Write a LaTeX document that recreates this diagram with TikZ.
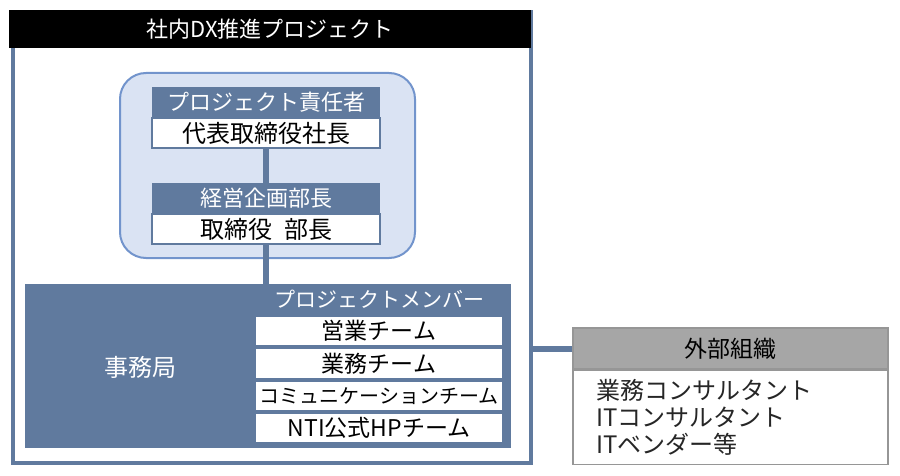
\documentclass[tikz,border=0pt]{standalone}
\usepackage{fontspec}
\setmainfont{Noto Sans CJK JP}
\usepackage{tikz}
\usetikzlibrary{positioning,shapes,calc}
\definecolor{orgblue}{RGB}{96,122,158}
\definecolor{paleblue}{RGB}{218,227,243}
\definecolor{paleedge}{RGB}{114,148,204}
\definecolor{extgray}{RGB}{166,166,166}
\definecolor{extedge}{RGB}{150,150,150}

\begin{document}
\begin{tikzpicture}[x=1pt,y=-1pt,
  hdr/.style={fill=orgblue,text=white,minimum width=228pt,minimum height=30pt,inner sep=0pt,font=\fontsize{22}{26}\selectfont},
  cell/.style={fill=white,draw=orgblue,line width=2pt,text=black,minimum width=228pt,minimum height=30pt,inner sep=0pt,font=\fontsize{24}{28}\selectfont},
  team/.style={fill=white,text=black,minimum width=246pt,minimum height=28.5pt,inner sep=0pt,font=\fontsize{23}{26}\selectfont},
  link/.style={draw=orgblue,line width=6pt}]
\useasboundingbox (0,0) rectangle (900,476);

\node[draw=orgblue,line width=4pt,minimum width=518pt,minimum height=451pt,anchor=north west] (frame) at (11,10) {};
\node[fill=black,text=white,minimum width=522pt,minimum height=38pt,inner sep=0pt,anchor=north west,font=\fontsize{22}{26}\selectfont] (title) at (9,10) {社内DX推進プロジェクト};

\node[fill=paleblue,draw=paleedge,line width=2pt,rounded corners=26pt,minimum width=295pt,minimum height=185pt] (core) at (267.5,165.5) {};
\node[hdr] (resphead) at (266,102) {プロジェクト責任者};
\node[cell,below=0pt of resphead] (respbody) {代表取締役社長};
\node[hdr] (planhead) at (266,198) {経営企画部長};
\node[cell,below=0pt of planhead] (planbody) {取締役\hspace{0.5em}部長};

\node[fill=orgblue,minimum width=486pt,minimum height=164pt] (office) at (268,366) {};
\node[text=white,font=\fontsize{24}{28}\selectfont] (officelabel) at (140,367) {事務局};
\node[text=white,font=\fontsize{21}{24}\selectfont] (members) at (379,299) {プロジェクトメンバー};
\node[team] (sales) at (379,331) {営業チーム};
\node[team,below=3.5pt of sales] (ops) {業務チーム};
\node[team,below=3.5pt of ops,font=\fontsize{20}{23}\selectfont] (comm) {コミュニケーションチーム};
\node[team,below=3.5pt of comm] (web) {NTI公式HPチーム};

\node[fill=extgray,draw=extedge,line width=1.5pt,minimum width=315pt,minimum height=41pt,inner sep=0pt,font=\fontsize{23}{27}\selectfont] (exthead) at (730.5,348.5) {外部組織};
\node[fill=white,draw=extedge,line width=1.5pt,below=0pt of exthead,minimum width=315pt,minimum height=94pt,text width=269pt,inner xsep=23pt,align=left,text=black!85,font=\fontsize{24}{27}\selectfont] (extbody) {業務コンサルタント\\ITコンサルタント\\ITベンダー等};

\draw[link] (respbody.south) -- (planhead.north);
\draw[link] (planbody.south) -- (planbody.south |- office.north);
\draw[link] (exthead.west) -- (exthead.west -| frame.east);
\end{tikzpicture}
\end{document}
